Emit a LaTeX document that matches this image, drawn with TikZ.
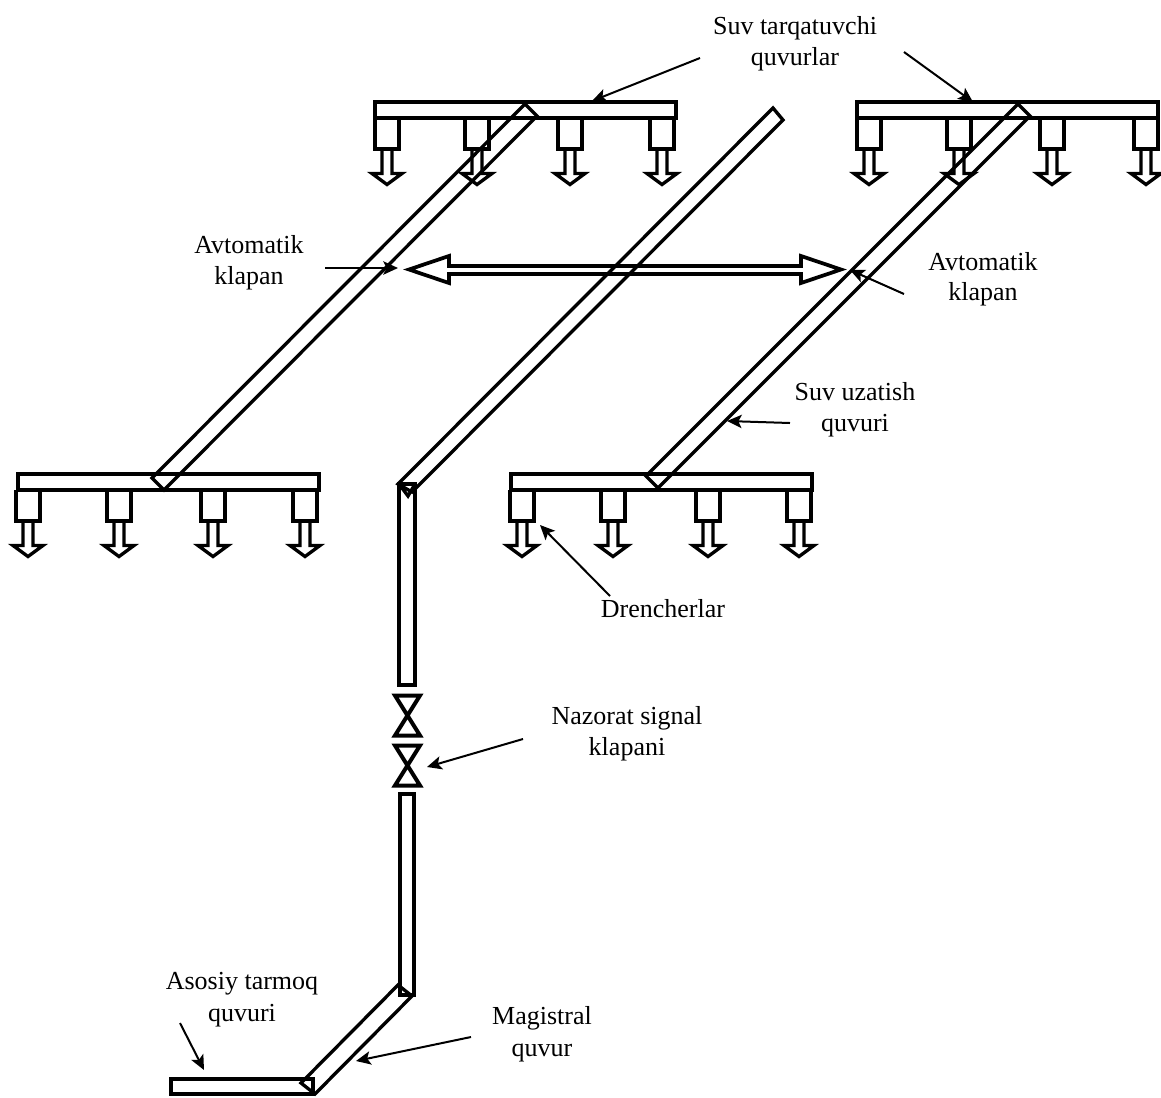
\documentclass[tikz,border=0pt]{standalone}
\usepackage{fontspec}
\setmainfont{Liberation Serif}
\usetikzlibrary{arrows.meta}
\tikzset{
  pipe/.style={line width=3pt,line join=miter,miter limit=3},
  diagpipe/.style={line width=2.5pt,line join=miter,miter limit=3},
  thinpipe/.style={line width=2.5pt,line join=miter},
  valve/.style={line width=3pt,line join=miter,miter limit=4},
  pointer/.style={line width=1.5pt,-{Stealth[length=11pt,width=10pt,inset=2.5pt]}},
  lbl/.style={font=\fontsize{19.5}{19.5}\selectfont,inner sep=0pt,anchor=base,yshift=-1.1pt},
  sprinkler/.pic={
    \draw[pipe] (-12,0) -- (-12,31) -- (12,31) -- (12,0);
    \draw[thinpipe] (-5,31) -- (-5,56) -- (-15,56) -- (0,67) -- (15,56) -- (5,56) -- (5,31);
  }
}
\begin{document}
\begin{tikzpicture}[x=0.75pt,y=-0.75pt]
\useasboundingbox[fill=white] (0,0) rectangle (1161,1097);

% distribution bars
\draw[pipe] (374.5,101.5) rectangle (676,117.5);
\draw[pipe] (856.5,101.5) rectangle (1158,117.5);
\draw[pipe] (17.5,473.5) rectangle (319,489.5);
\draw[pipe] (510.5,473.5) rectangle (812,489.5);

% sprinklers
\foreach \x in {387,477,570,662} \pic at (\x,117.5) {sprinkler};
\foreach \x in {869,959,1052,1146} \pic at (\x,117.5) {sprinkler};
\foreach \x in {28,119,213,305} \pic at (\x,489.5) {sprinkler};
\foreach \x in {522,613,708,799} \pic at (\x,489.5) {sprinkler};

% diagonal branches
\draw[diagpipe] (525,104) -- (537,116) -- (164,490) -- (152,478) -- cycle;
\draw[diagpipe] (1018,104) -- (1030,116) -- (658,488) -- (646,476) -- cycle;

% riser
\draw[diagpipe] (773,108) -- (783,120) -- (412,492) -- (398,484) -- cycle;
\draw[pipe] (399,484) -- (415,484) -- (415,685) -- (399,685) -- cycle;
\draw[thinpipe] (399,484) -- (408,496) -- (415,484);

% control valves
\draw[valve] (395,695.5) -- (420,695.5) -- (395,735.5) -- (420,735.5) -- cycle;
\draw[valve] (395,745.5) -- (420,745.5) -- (395,785.5) -- (420,785.5) -- cycle;

% lower riser and main
\draw[pipe] (400,794) -- (414,794) -- (414,995) -- (400,995) -- cycle;
\draw[diagpipe] (398,985) -- (412,996) -- (315,1094) -- (301,1083) -- cycle;
\draw[pipe] (171,1079) -- (313,1079) -- (313,1094) -- (171,1094) -- cycle;

% double arrow
\draw[line width=2.8pt,line join=miter] (449,266) -- (449,256) -- (409,269.5) -- (449,283) -- (449,274) -- (801,274) -- (801,283) -- (841,269.5) -- (801,256) -- (801,266) -- cycle;

% labels
\node[lbl] (lSuvA) at (795,33) {Suv tarqatuvchi};
\node[lbl] (lSuvB) at (795,64) {quvurlar};
\node[lbl] (lAvtA) at (249,252) {Avtomatik};
\node[lbl] (lAvtB) at (249,283) {klapan};
\node[lbl] (lAvtC) at (983,269) {Avtomatik};
\node[lbl] (lAvtD) at (983,299) {klapan};
\node[lbl] (lUzaA) at (855,399) {Suv uzatish};
\node[lbl] (lUzaB) at (855,430) {quvuri};
\node[lbl] (lDren) at (663,616) {Drencherlar};
\node[lbl] (lNazA) at (627,723) {Nazorat signal};
\node[lbl] (lNazB) at (627,754) {klapani};
\node[lbl] (lMagA) at (542,1023) {Magistral};
\node[lbl] (lMagB) at (542,1055) {quvur};
\node[lbl] (lAsoA) at (242,988) {Asosiy tarmoq};
\node[lbl] (lAsoB) at (242,1020) {quvuri};

% pointers
\coordinate (a1s) at (700,58);   \coordinate (a1e) at (592,101);
\coordinate (a2s) at (904,52);   \coordinate (a2e) at (973,102);
\coordinate (a3s) at (325,268);  \coordinate (a3e) at (398,268);
\coordinate (a4s) at (904,294);  \coordinate (a4e) at (850,270);
\coordinate (a5s) at (790,423);  \coordinate (a5e) at (727,421);
\coordinate (a6s) at (610,596);  \coordinate (a6e) at (540,525);
\coordinate (a7s) at (523,739);  \coordinate (a7e) at (427,767);
\coordinate (a8s) at (471,1037); \coordinate (a8e) at (356,1061);
\coordinate (a9s) at (180,1023); \coordinate (a9e) at (204,1070);
\foreach \i in {1,...,9} \draw[pointer] (a\i s) -- (a\i e);
\end{tikzpicture}
\end{document}
